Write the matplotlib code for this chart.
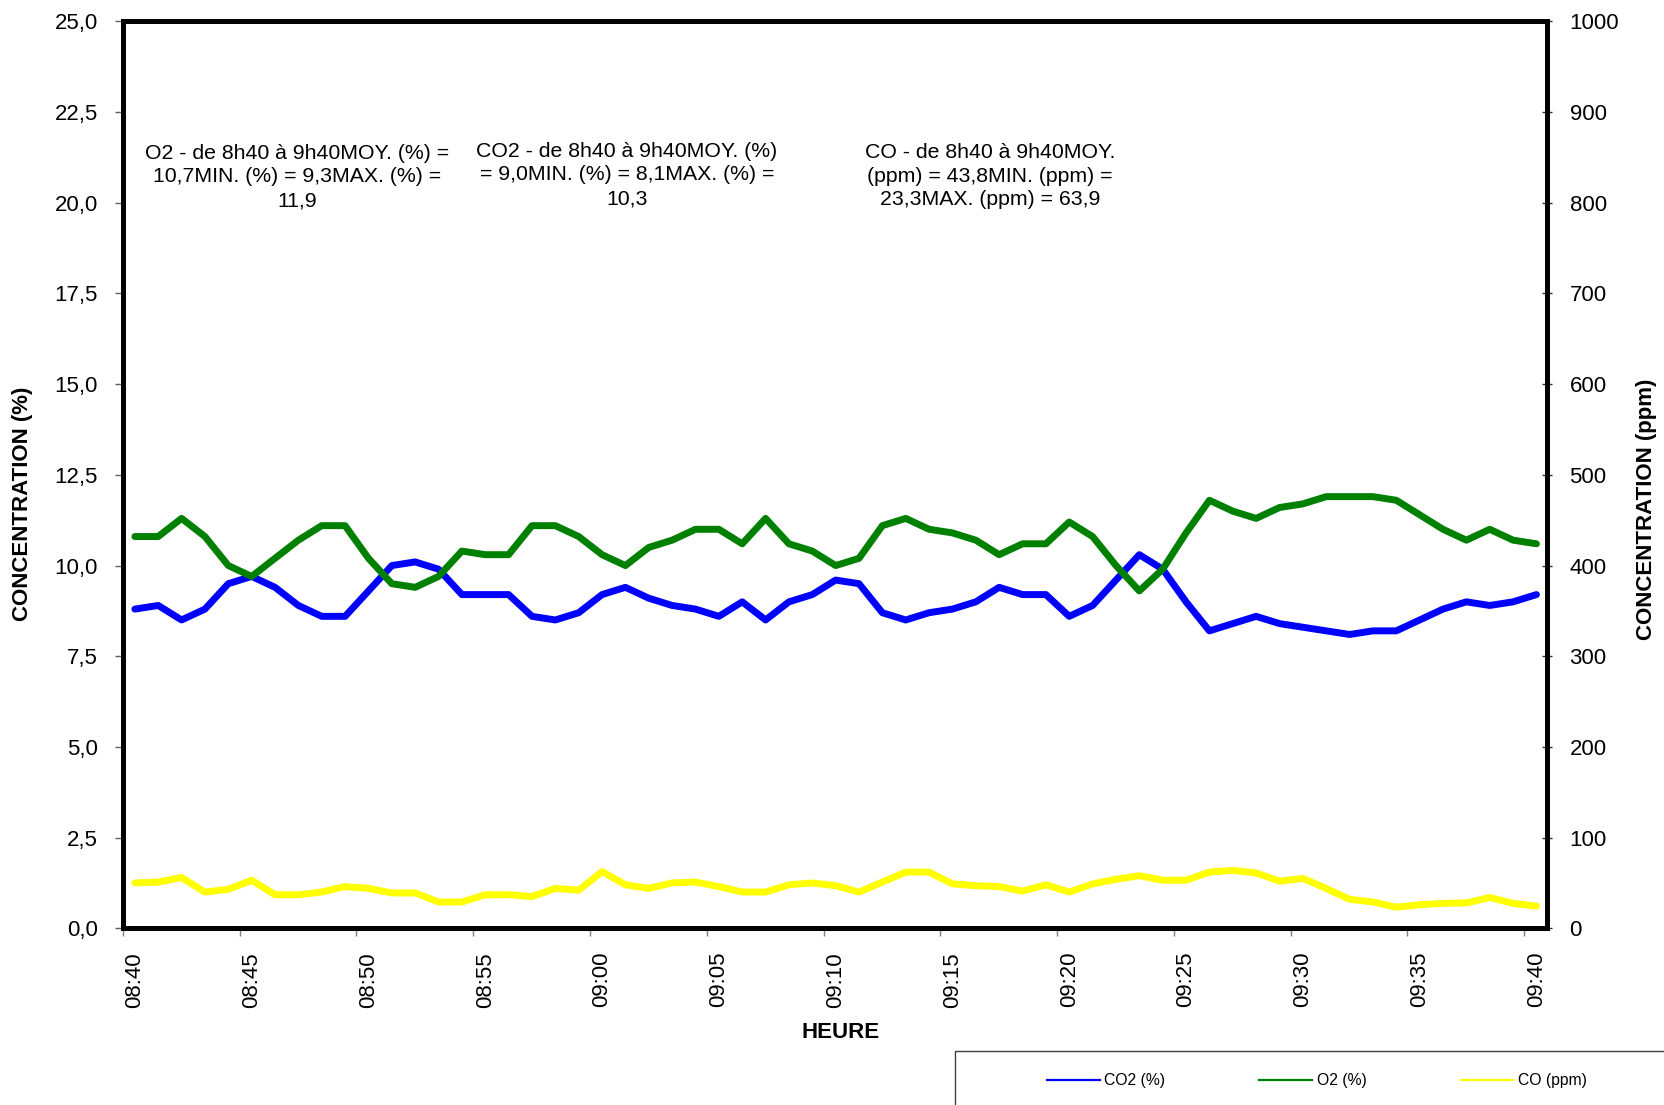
import numpy as np
import pandas as pd
import matplotlib
matplotlib.use("Agg")
import matplotlib.pyplot as plt
from matplotlib.lines import Line2D
from matplotlib.patches import Rectangle
from matplotlib.ticker import FixedLocator, FuncFormatter

plt.rcParams['font.family'] = ['Liberation Sans', 'DejaVu Sans']

# Sampling times (one reading per minute)
times = pd.date_range("2000-01-01 08:40", "2000-01-01 09:40", freq="1min")

co2_pct = [8.8, 8.9, 8.5, 8.8, 9.5, 9.7, 9.4, 8.9, 8.6, 8.6,
           9.3, 10.0, 10.1, 9.9, 9.2, 9.2, 9.2, 8.6, 8.5, 8.7,
           9.2, 9.4, 9.1, 8.9, 8.8, 8.6, 9.0, 8.5, 9.0, 9.2,
           9.6, 9.5, 8.7, 8.5, 8.7, 8.8, 9.0, 9.4, 9.2, 9.2,
           8.6, 8.9, 9.6, 10.3, 9.9, 9.0, 8.2, 8.4, 8.6, 8.4,
           8.3, 8.2, 8.1, 8.2, 8.2, 8.5, 8.8, 9.0, 8.9, 9.0, 9.2]

o2_pct = [10.8, 10.8, 11.3, 10.8, 10.0, 9.7, 10.2, 10.7, 11.1, 11.1,
          10.2, 9.5, 9.4, 9.7, 10.4, 10.3, 10.3, 11.1, 11.1, 10.8,
          10.3, 10.0, 10.5, 10.7, 11.0, 11.0, 10.6, 11.3, 10.6, 10.4,
          10.0, 10.2, 11.1, 11.3, 11.0, 10.9, 10.7, 10.3, 10.6, 10.6,
          11.2, 10.8, 10.0, 9.3, 9.9, 10.9, 11.8, 11.5, 11.3, 11.6,
          11.7, 11.9, 11.9, 11.9, 11.8, 11.4, 11.0, 10.7, 11.0, 10.7, 10.6]

co_ppm = [50, 51, 56, 40, 43, 53, 37, 37, 40, 46,
          44, 39, 39, 29, 29, 37, 37, 35, 44, 42,
          62.5, 48, 44, 50, 51, 46, 40, 40, 48, 50,
          47, 40, 51, 62, 62, 49, 47, 46, 41, 48,
          40, 49, 54, 58, 53, 53, 62, 63.9, 61, 52,
          55, 44, 32, 29, 23.3, 26, 27.5, 28, 34, 27.5, 24.5]

tick_labels = ["08:40", "08:45", "08:50", "08:55", "09:00", "09:05", "09:10",
               "09:15", "09:20", "09:25", "09:30", "09:35", "09:40"]

notes = [
    "O2 - de 8h40 à 9h40MOY. (%) =\n10,7MIN. (%) = 9,3MAX. (%) =\n11,9",
    "CO2 - de 8h40 à 9h40MOY. (%)\n= 9,0MIN. (%) = 8,1MAX. (%) =\n10,3",
    "CO - de 8h40 à 9h40MOY.\n(ppm) = 43,8MIN. (ppm) =\n23,3MAX. (ppm) = 63,9",
]

# minutes elapsed since the first reading
minutes = (times - times[0]).total_seconds().to_numpy() / 60.0
tick_pos = minutes[::5]

fig = plt.figure(figsize=(16.65, 11.05), dpi=100)
ax = fig.add_axes([0.0737, 0.1599, 0.9291 - 0.0737, 0.9806 - 0.1599])
ax2 = ax.twinx()

ax.plot(minutes, co2_pct, color="#0000FF", lw=5,
        solid_joinstyle="round", solid_capstyle="round", zorder=3)
ax.plot(minutes, o2_pct, color="#008000", lw=5,
        solid_joinstyle="round", solid_capstyle="round", zorder=4)
ax2.plot(minutes, co_ppm, color="#FFFF00", lw=5,
         solid_joinstyle="round", solid_capstyle="round")

shift = 0.52
ax.set_xlim(minutes[0] - shift, minutes[-1] + 0.45)
ax.set_ylim(0, 25)
ax2.set_ylim(0, 1000)

ax.set_yticks(np.arange(0, 25.01, 2.5))
ax.yaxis.set_major_formatter(FuncFormatter(lambda v, p: f"{v:.1f}".replace(".", ",")))
ax2.set_yticks(np.arange(0, 1001, 100))

# labels sit on the readings, tick marks sit between the categories
ax.xaxis.set_major_locator(FixedLocator(tick_pos))
ax.set_xticklabels(tick_labels, rotation=90)
ax.xaxis.set_minor_locator(FixedLocator(tick_pos - shift))
ax.tick_params(axis="x", which="major", length=0, pad=17, labelsize=16)
ax.tick_params(axis="x", which="minor", length=6, width=1, color="#808080",
               direction="out")
for lab in ax.get_xticklabels():
    lab.set_verticalalignment("top")

ax.tick_params(axis="y", length=6, width=1, color="#606060", direction="out",
               pad=12, labelsize=16)
ax2.tick_params(axis="y", length=6.5, width=1, color="#303030", direction="inout",
                pad=13, labelsize=16)

for a in (ax, ax2):
    for s in a.spines.values():
        s.set_linewidth(3.6)
        s.set_color("black")

fig.text(0.0138, 0.5439, "CONCENTRATION (%)", rotation=90, ha="center",
         va="center", fontsize=16, fontweight="bold")
fig.text(0.9886, 0.5394, "CONCENTRATION (ppm)", rotation=90, ha="center",
         va="center", fontsize=16, fontweight="bold")
fig.text(0.505, 0.066, "HEURE", ha="center", va="center", fontsize=16,
         fontweight="bold")

for x_px, y_px, txt in zip([297, 627, 990], [177, 175, 176], notes):
    fig.text(x_px / 1665, 1 - y_px / 1105, txt, ha="center", va="center",
             multialignment="center", fontsize=15.3, linespacing=1.33)

# legend box running off the lower-right corner
fig.add_artist(Rectangle((955 / 1665, -0.1), 0.5, 0.1 + (1 - 1051 / 1105),
                         transform=fig.transFigure, fill=False,
                         edgecolor="#404040", lw=1, clip_on=False))
handles = [Line2D([], [], color="#0000FF", lw=1.6),
           Line2D([], [], color="#008000", lw=1.6),
           Line2D([], [], color="#FFFF00", lw=1.6)]
fig.legend(handles, ["CO2 (%)", "O2 (%)", "CO (ppm)"], ncol=3,
           loc="center left", bbox_to_anchor=(1047 / 1665, 1 - 1081 / 1105),
           frameon=False, borderpad=0, borderaxespad=0, fontsize=11.3,
           handlelength=3.35, handletextpad=0.3, columnspacing=6.0)

fig.savefig("out.png", dpi=100)
